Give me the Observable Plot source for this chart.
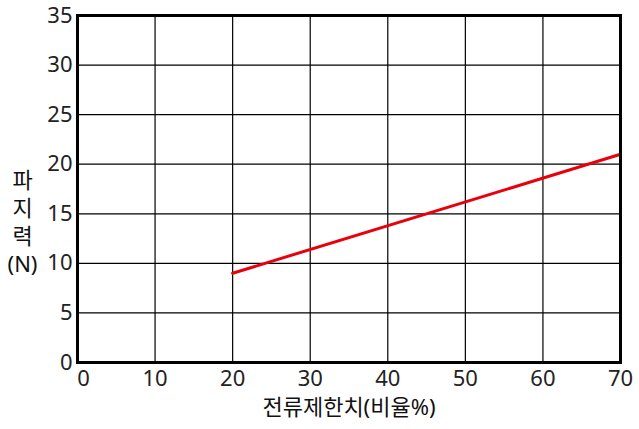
<!DOCTYPE html>
<html><head><meta charset="utf-8">
<script src="https://cdn.jsdelivr.net/npm/d3@7"></script>
<script src="https://cdn.jsdelivr.net/npm/@observablehq/plot@0.6"></script>
<style>body{margin:0;background:#fff;} svg{font-family:"Noto Sans","Noto Sans CJK KR",sans-serif;}</style>
</head><body><div id="chart"></div>
<script>
const currentLimit = [20, 70];
const holdingForce = [9, 21];
const xTicks = [0, 10, 20, 30, 40, 50, 60, 70];
const yTicks = [0, 5, 10, 15, 20, 25, 30, 35];
const xLabel = "전류제한치(비율%)";
const yLabel = "파\n지\n력\n(N)";

const data = currentLimit.map((x, i) => ({x, y: holdingForce[i]}));

const chart = Plot.plot({
  width: 639, height: 429,
  marginLeft: 77, marginRight: 19, marginTop: 15, marginBottom: 67,
  style: {fontFamily: '"Noto Sans","Noto Sans CJK KR",sans-serif', fontSize: "22px", color: "#222", background: "#fff"},
  x: {domain: [0, 70], ticks: xTicks, label: null},
  y: {domain: [0, 35], ticks: yTicks, label: null},
  marks: [
    Plot.gridX(xTicks, {stroke: "#000", strokeOpacity: 1, strokeWidth: 1.2}),
    Plot.gridY(yTicks, {stroke: "#000", strokeOpacity: 1, strokeWidth: 1.2}),
    Plot.axisX(xTicks.slice(1), {tickSize: 0, tickPadding: 8, fontSize: 22}),
    Plot.axisX([0], {tickSize: 0, tickPadding: 8, fontSize: 22, dx: 6}),
    Plot.axisY(yTicks, {tickSize: 0, tickPadding: 5, fontSize: 22}),
    Plot.line(data, {x: "x", y: "y", stroke: "#e8000b", strokeWidth: 3}),
    Plot.frame({stroke: "#000", strokeWidth: 3}),
    Plot.text([xLabel], {frameAnchor: "bottom", dy: 52, fontSize: 22, fill: "#111"}),
    Plot.text([yLabel], {frameAnchor: "left", dx: -55, dy: 32, fontSize: 22, lineHeight: 1.28, fill: "#111", textAnchor: "middle"})
  ]
});
document.getElementById("chart").appendChild(chart);
</script></body></html>
